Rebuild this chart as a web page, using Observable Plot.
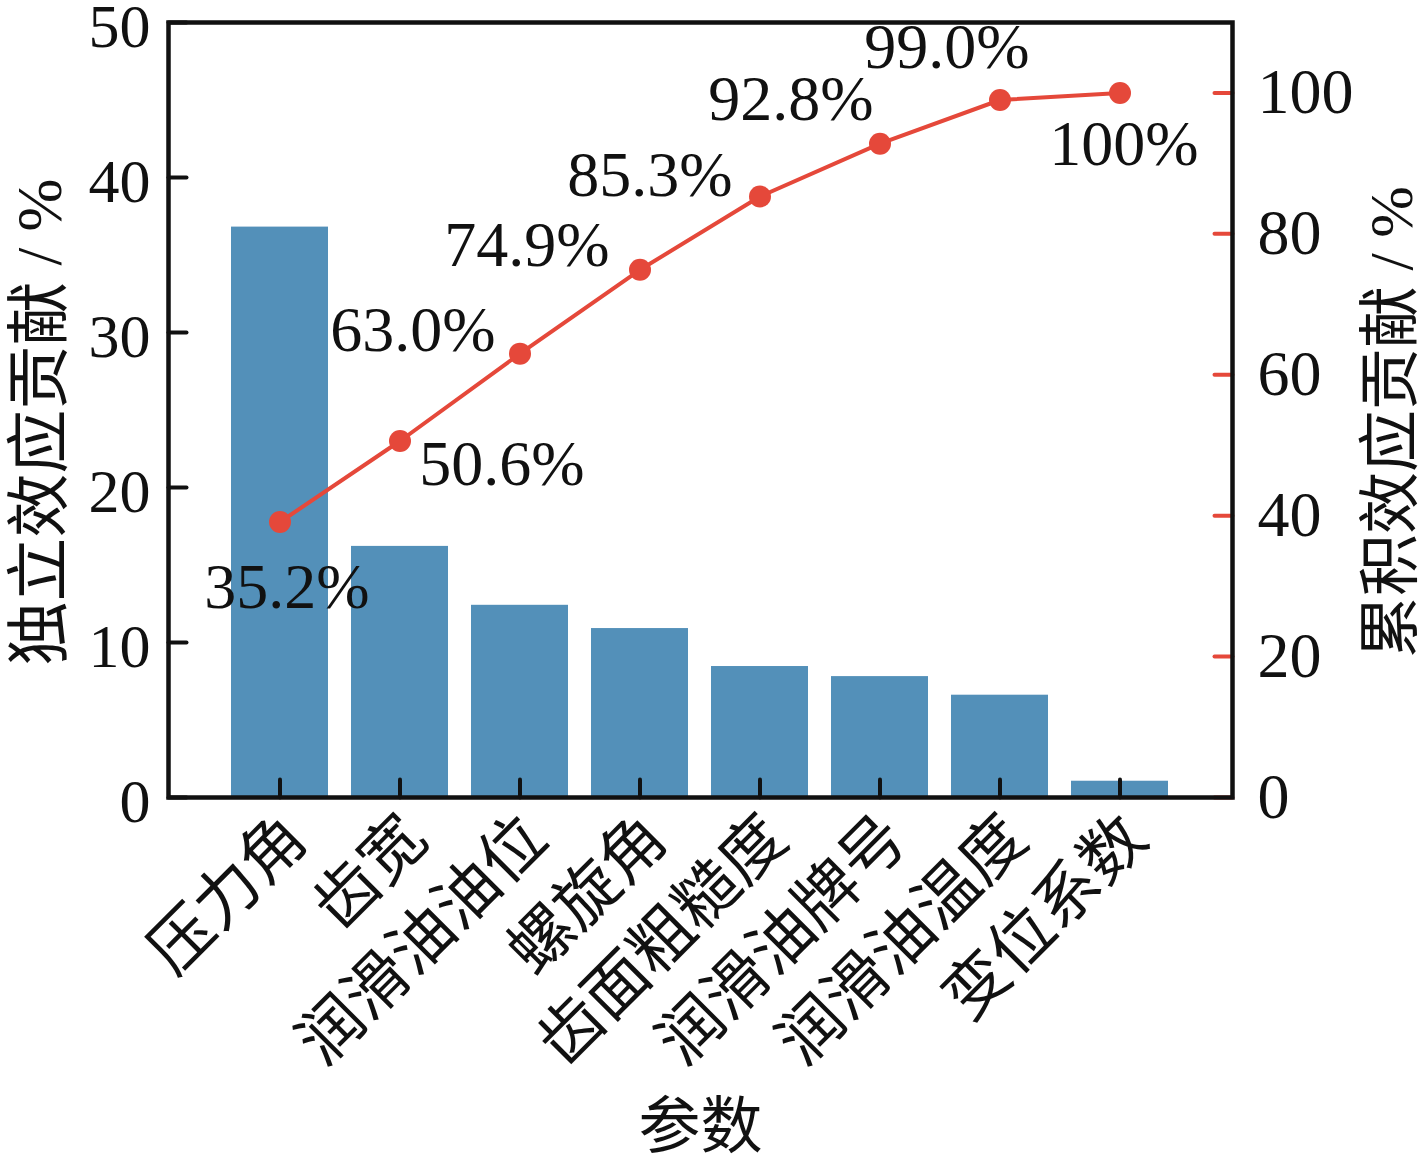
<!DOCTYPE html>
<html>
<head>
<meta charset="utf-8">
<script src="https://cdn.jsdelivr.net/npm/d3@7"></script>
<script src="https://cdn.jsdelivr.net/npm/@observablehq/plot@0.6"></script>
<style>
  html, body { margin: 0; padding: 0; background: #fff; }
</style>
</head>
<body>
<div id="chart"></div>
<script>
// ---- data ----
const categories = ["压力角", "齿宽", "润滑油油位", "螺旋角", "齿面粗糙度", "润滑油牌号", "润滑油温度", "变位系数"];
const independent = [36.8, 16.2, 12.4, 10.9, 8.45, 7.8, 6.6, 1.05];
const cumulative = [39.1, 50.6, 63.0, 74.9, 85.3, 92.8, 99.0, 100];
const cumLabels = ["35.2%", "50.6%", "63.0%", "74.9%", "85.3%", "92.8%", "99.0%", "100%"];
const leftTicks = [0, 10, 20, 30, 40, 50];
const rightTicks = [0, 20, 40, 60, 80, 100];

// ---- styling ----
const leftMax = 50, rightMax = 110;
const toLeft = v => v * leftMax / rightMax;
const labelOffsets = [[7, 65], [102, 24], [-107, -23], [-113, -24], [-110, -21], [-89, -44], [-53, -52], [4, 52]];
const barColor = "#5390b9";
const lineColor = "#e5483a";
const font = "'Liberation Serif', 'Noto Sans CJK SC', serif";
const tickShape = {draw(context, l) { context.moveTo(0, 0); context.lineTo(0, -l); }};

const bars = categories.map((c, i) => ({cat: c, v: independent[i]}));
const cum = categories.map((c, i) => ({cat: c, v: cumulative[i], label: cumLabels[i], dx: labelOffsets[i][0], dy: labelOffsets[i][1]}));

const chart = Plot.plot({
  width: 1427,
  height: 1165,
  marginLeft: 168,
  marginRight: 195,
  marginTop: 22,
  marginBottom: 368,
  style: {fontFamily: font, background: "#fff", color: "#111"},
  x: {domain: categories, paddingInner: 0.19, paddingOuter: 0.52},
  y: {domain: [0, leftMax]},
  marks: [
    Plot.barY(bars, {x: "cat", y: "v", fill: barColor}),
    // left axis labels
    Plot.axisY(leftTicks, {anchor: "left", tickSize: 0, tickPadding: 18, dy: 5, fontSize: 62, label: null, fill: "#111"}),
    // right axis labels
    Plot.axisY(rightTicks.map(toLeft), {anchor: "right", tickSize: 0, tickPadding: 25, fontSize: 64, label: null, fill: "#111",
      tickFormat: d => String(Math.round(d * rightMax / leftMax))}),
    // x axis labels
    Plot.axisX({anchor: "bottom", tickSize: 0, tickPadding: 30, dx: 16, tickRotate: -45, fontSize: 64, label: null, fill: "#111"}),
    // inward ticks
    Plot.vector(leftTicks, {y: d => d, frameAnchor: "left", length: 18, rotate: 90, anchor: "start", shape: tickShape, stroke: "#111", strokeWidth: 4}),
    Plot.vector(rightTicks.map(toLeft), {y: d => d, frameAnchor: "right", length: 18, rotate: -90, anchor: "start", shape: tickShape, stroke: lineColor, strokeWidth: 4}),
    Plot.vector(categories, {x: d => d, frameAnchor: "bottom", length: 18, rotate: 0, anchor: "start", shape: tickShape, stroke: "#111", strokeWidth: 4}),
    Plot.frame({stroke: "#111", strokeWidth: 4.5}),
    // cumulative line
    Plot.line(cum, {x: "cat", y: d => toLeft(d.v), stroke: lineColor, strokeWidth: 4}),
    Plot.dot(cum, {x: "cat", y: d => toLeft(d.v), r: 11, fill: lineColor, stroke: "none"}),
    ...cum.map(d => Plot.text([d], {x: "cat", y: e => toLeft(e.v), text: "label", dx: d.dx, dy: d.dy, fontSize: 64, fill: "#111", textAnchor: "middle"})),
    // axis titles
    Plot.text(["独立效应贡献 / %"], {frameAnchor: "left", text: d => d, rotate: -90, textAnchor: "middle", dx: -128, dy: 12, fontSize: 64, fill: "#111"}),
    Plot.text(["累积效应贡献 / %"], {frameAnchor: "right", text: d => d, rotate: -90, textAnchor: "middle", dx: 160, dy: 12, fontSize: 62, fill: "#111"}),
    Plot.text(["参数"], {frameAnchor: "bottom", text: d => d, textAnchor: "middle", dy: 350, fontSize: 62, fill: "#111"})
  ]
});
document.getElementById("chart").appendChild(chart);
</script>
</body>
</html>
